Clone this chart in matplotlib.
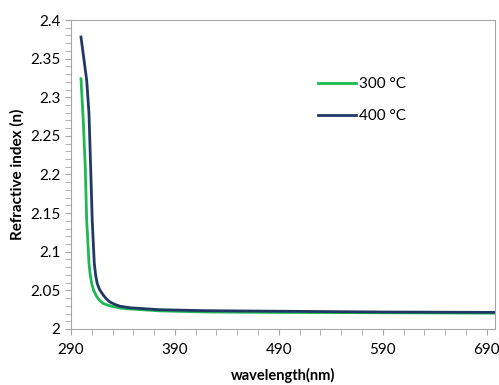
import numpy as np
import matplotlib.pyplot as plt
from matplotlib.ticker import FixedLocator, MultipleLocator

# values
wl_300 = [299.6, 301.8, 303.7, 305.1, 307.3, 308.5, 309.9, 311.5, 314.7, 317.5, 321, 325,
          330.6, 338, 346.6, 375, 420, 490, 590, 698]
n_300 = [2.324, 2.270, 2.210, 2.141, 2.085, 2.070, 2.059, 2.051, 2.042, 2.037, 2.033, 2.031,
         2.029, 2.027, 2.026, 2.0235, 2.022, 2.0215, 2.021, 2.0205]

wl_400 = [299.6, 305.1, 307.3, 308.9, 310.4, 312.4, 313.7, 315.2, 317.5, 321, 324, 327.4,
          332, 337, 346.6, 375, 420, 490, 590, 698]
n_400 = [2.378, 2.322, 2.279, 2.210, 2.141, 2.085, 2.070, 2.059, 2.051, 2.044, 2.039, 2.035,
         2.032, 2.0295, 2.0275, 2.025, 2.0237, 2.023, 2.022, 2.0215]

labels = ["300 °C", "400 °C"]
colors = ["#1db954", "#1f3864"]
x_ticks = [290, 390, 490, 590, 690]

plt.rcParams['font.family'] = ['Lato', 'DejaVu Sans']

fig = plt.figure(figsize=(4.99, 3.85), dpi=100)
ax = fig.add_axes([71 / 499, 1 - 329 / 385, 424 / 499, 309 / 385])

ax.plot(wl_300, n_300, color=colors[0], lw=2, label=labels[0], solid_joinstyle="round")
ax.plot(wl_400, n_400, color=colors[1], lw=2, label=labels[1], solid_joinstyle="round")

ax.set_xlim(290, 698)
ax.set_ylim(2, 2.4)
ax.xaxis.set_major_locator(FixedLocator(x_ticks))
ax.xaxis.set_minor_locator(FixedLocator(np.arange(290, 700, 20)))
ax.yaxis.set_major_locator(MultipleLocator(0.05))
ax.yaxis.set_minor_locator(MultipleLocator(0.01))
ax.set_yticklabels(["2" if abs(v - 2) < 1e-9 else f"{v:g}" for v in ax.get_yticks()])

for s in ax.spines.values():
    s.set_color("#a6a6a6")
ax.tick_params(which="both", color="#a6a6a6", length=4, labelsize=11)
ax.tick_params(axis="x", pad=6)

ax.set_xlabel("wavelength(nm)", fontweight="bold", fontsize=10.5, labelpad=8)
ax.set_ylabel("Refractive index (n)", fontweight="bold", fontsize=11, labelpad=4)

ax.legend(loc="upper left", bbox_to_anchor=(0.55, 0.86), frameon=False,
          fontsize=11, handlelength=2.5, handletextpad=0.2, labelspacing=1.2)

fig.savefig("out.png", dpi=100)
